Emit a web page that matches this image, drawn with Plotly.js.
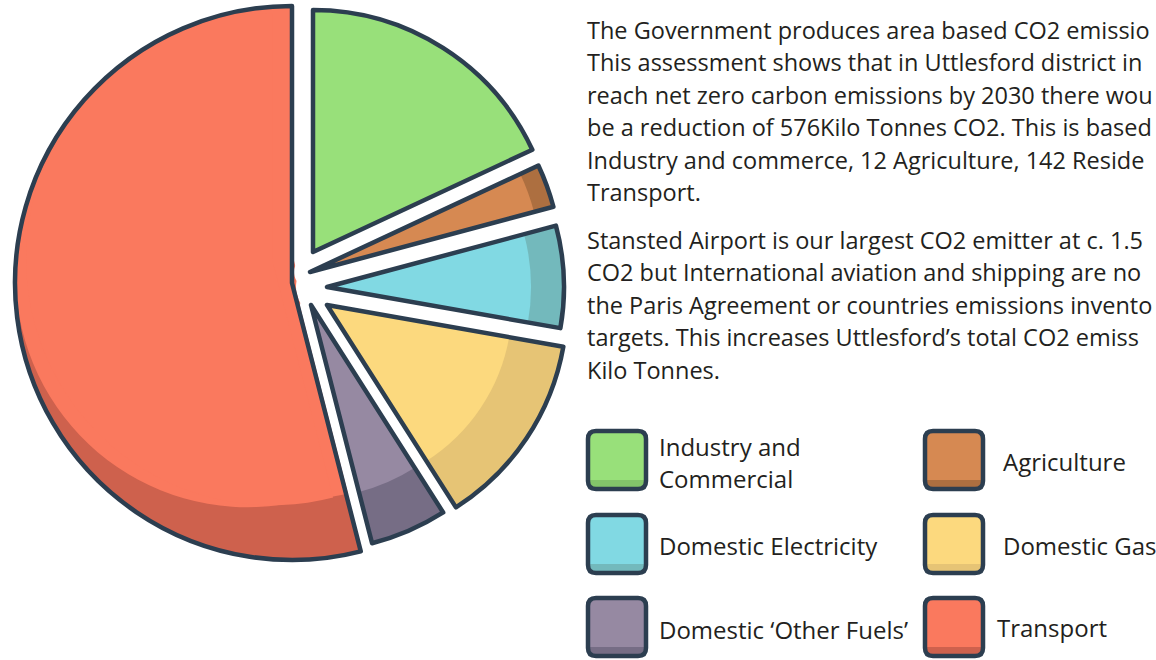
<!DOCTYPE html>
<html><head><meta charset="utf-8">
<script src="https://cdn.plot.ly/plotly-3.0.1.min.js"></script>
<style>
html,body{margin:0;padding:0;background:#fff;}
#chart{width:1156px;height:660px;}
.pielayer path.surface{stroke-linejoin:round;}
</style></head><body><div id="chart"></div>
<script>
// ---- data ----
const categories = ['Industry and Commercial','Agriculture','Domestic Electricity','Domestic Gas','Domestic ‘Other Fuels’','Transport'];
const values = [104, 16, 40, 76, 29, 311];   // kilo tonnes CO2
const legendLines = [['Industry and','Commercial'],['Agriculture'],['Domestic Electricity'],['Domestic Gas'],['Domestic ‘Other Fuels’'],['Transport']];
// paragraph lines as visible in the (cropped) picture
const paragraph1 = [
  'The Government produces area based CO2 emissio',
  'This assessment shows that in Uttlesford district in',
  'reach net zero carbon emissions by 2030 there wou',
  'be a reduction of 576Kilo Tonnes CO2. This is based',
  'Industry and commerce, 12 Agriculture, 142 Reside',
  'Transport.'
];
const paragraph2 = [
  'Stansted Airport is our largest CO2 emitter at c. 1.5',
  'CO2 but International aviation and shipping are no',
  'the Paris Agreement or countries emissions invento',
  'targets. This increases Uttlesford’s total CO2 emiss',
  'Kilo Tonnes.'
];

// ---- styles / layout ----
const lightColors = ['#98E07A','#D68952','#81D9E3','#FCD97E','#9689A2','#FA795E'];
const darkColors  = ['#83C46A','#AD6F40','#73B9BC','#E6C475','#766D85','#CE614D'];
const OUTLINE = '#2C3E50';
const TEXTC = '#231F20';
const FONT = 'Open Sans, Noto Sans, sans-serif';
const FS_PARA = 23.5, FS_LEG = 24;
const W = 1156, H = 660;
// exploded illustration: pixel apex + radius of each slice
const apex   = [[313,252],[310,272],[327,287],[327,305],[311,305],[292,283]];
const radius = [242, 252, 237, 240, 246, 277];
const band   = [0, 20, 33, 55, 53, 0];       // concentric shading band for the right-hand slices
const halo   = [0, 16, 31, 25, 11, 0];       // white mask half-width
const shifted = [{s:30, psi:0}, {s:45, psi:280}, {s:31, psi:320}]; // transport highlight layers
const T = 5; // transport index

function dom(cx, cy, r){
  return {x:[(cx-r)/W,(cx+r)/W], y:[1-(cy+r)/H, 1-(cy-r)/H]};
}
function slice(idx, cx, cy, r, fill, lineColor, lineWidth){
  return {
    type:'pie', values: values, labels: categories, sort:false,
    direction:'clockwise', rotation:0, textinfo:'none', hoverinfo:'skip',
    showlegend:false, domain: dom(cx, cy, r),
    marker:{
      colors: categories.map((_, j) => j === idx ? fill : 'rgba(0,0,0,0)'),
      line:{color: categories.map((_, j) => j === idx ? lineColor : 'rgba(0,0,0,0)'),
            width: categories.map((_, j) => j === idx ? lineWidth : 0)}
    }
  };
}

const traces = [];
traces.push(slice(T, apex[T][0], apex[T][1], radius[T], darkColors[T], 'rgba(0,0,0,0)', 0));
shifted.forEach(h => {
  const a = h.psi * Math.PI / 180;
  traces.push(slice(T, apex[T][0] + h.s*Math.sin(a), apex[T][1] - h.s*Math.cos(a), radius[T] - h.s,
                    lightColors[T], 'rgba(0,0,0,0)', 0));
});
for (let i = 0; i < T; i++) {
  if (halo[i] > 0) traces.push(slice(i, apex[i][0], apex[i][1], radius[i], '#ffffff', '#ffffff', 2*halo[i]));
}
for (let i = 0; i < T; i++) {
  if (band[i] > 0) {
    traces.push(slice(i, apex[i][0], apex[i][1], radius[i], darkColors[i], 'rgba(0,0,0,0)', 0));
    traces.push(slice(i, apex[i][0], apex[i][1], radius[i] - band[i], lightColors[i], 'rgba(0,0,0,0)', 0));
  } else {
    traces.push(slice(i, apex[i][0], apex[i][1], radius[i], lightColors[i], 'rgba(0,0,0,0)', 0));
  }
}
for (let i = 0; i <= T; i++) {
  traces.push(slice(i, apex[i][0], apex[i][1], radius[i], 'rgba(0,0,0,0)', OUTLINE, 4.5));
}

// ---- legend swatches (shapes) & texts (annotations) ----
const px = x => x / W, py = y => 1 - y / H;
function rrPath(x0, y0, x1, y1, r, topRound = true, botRound = true){
  const rt = topRound ? r : 0, rb = botRound ? r : 0;
  return 'M' + px(x0+rt) + ',' + py(y0) +
    ' L' + px(x1-rt) + ',' + py(y0) +
    ' Q' + px(x1) + ',' + py(y0) + ' ' + px(x1) + ',' + py(y0+rt) +
    ' L' + px(x1) + ',' + py(y1-rb) +
    ' Q' + px(x1) + ',' + py(y1) + ' ' + px(x1-rb) + ',' + py(y1) +
    ' L' + px(x0+rb) + ',' + py(y1) +
    ' Q' + px(x0) + ',' + py(y1) + ' ' + px(x0) + ',' + py(y1-rb) +
    ' L' + px(x0) + ',' + py(y0+rt) +
    ' Q' + px(x0) + ',' + py(y0) + ' ' + px(x0+rt) + ',' + py(y0) + ' Z';
}
const swatchPos = [[588,431],[925,431],[588,515],[925,515],[588,598],[925,598]];
const labelPos  = [[657,462],[1001,462],[657,545],[1001,545],[657,629],[995,627]];
const SW = 58;
const shapes = [];
const annotations = [];
function txt(x, y, t, fs){
  annotations.push({xref:'paper', yref:'paper', x: px(x), y: py(y), xanchor:'left', yanchor:'middle',
    showarrow:false, align:'left', text:t, font:{family: FONT, size: fs, color: TEXTC}});
}
categories.forEach((c, i) => {
  const [x0, y0] = swatchPos[i];
  shapes.push({type:'path', xref:'paper', yref:'paper', path: rrPath(x0, y0, x0+SW, y0+SW, 8),
               fillcolor: lightColors[i], line:{width:0}});
  shapes.push({type:'path', xref:'paper', yref:'paper', path: rrPath(x0, y0+SW-9, x0+SW, y0+SW, 7, false, true),
               fillcolor: darkColors[i], line:{width:0}});
  shapes.push({type:'path', xref:'paper', yref:'paper', path: rrPath(x0, y0, x0+SW, y0+SW, 8),
               fillcolor:'rgba(0,0,0,0)', line:{color: OUTLINE, width:4.5}});
  const lines = legendLines[i];
  lines.forEach((t, k) => txt(labelPos[i][0], labelPos[i][1] + (k - (lines.length-1)/2) * 32, t, FS_LEG));
});
const lineGap = 32.4;
paragraph1.forEach((t, k) => txt(585, 30 + k*lineGap, t, FS_PARA));
paragraph2.forEach((t, k) => txt(585, 240 + k*lineGap, t, FS_PARA));

Plotly.newPlot('chart', traces, {
  width: W, height: H, margin:{l:0, r:0, t:0, b:0},
  paper_bgcolor:'#ffffff', plot_bgcolor:'#ffffff', showlegend:false,
  shapes: shapes, annotations: annotations
}, {staticPlot:true, displayModeBar:false});
</script></body></html>
